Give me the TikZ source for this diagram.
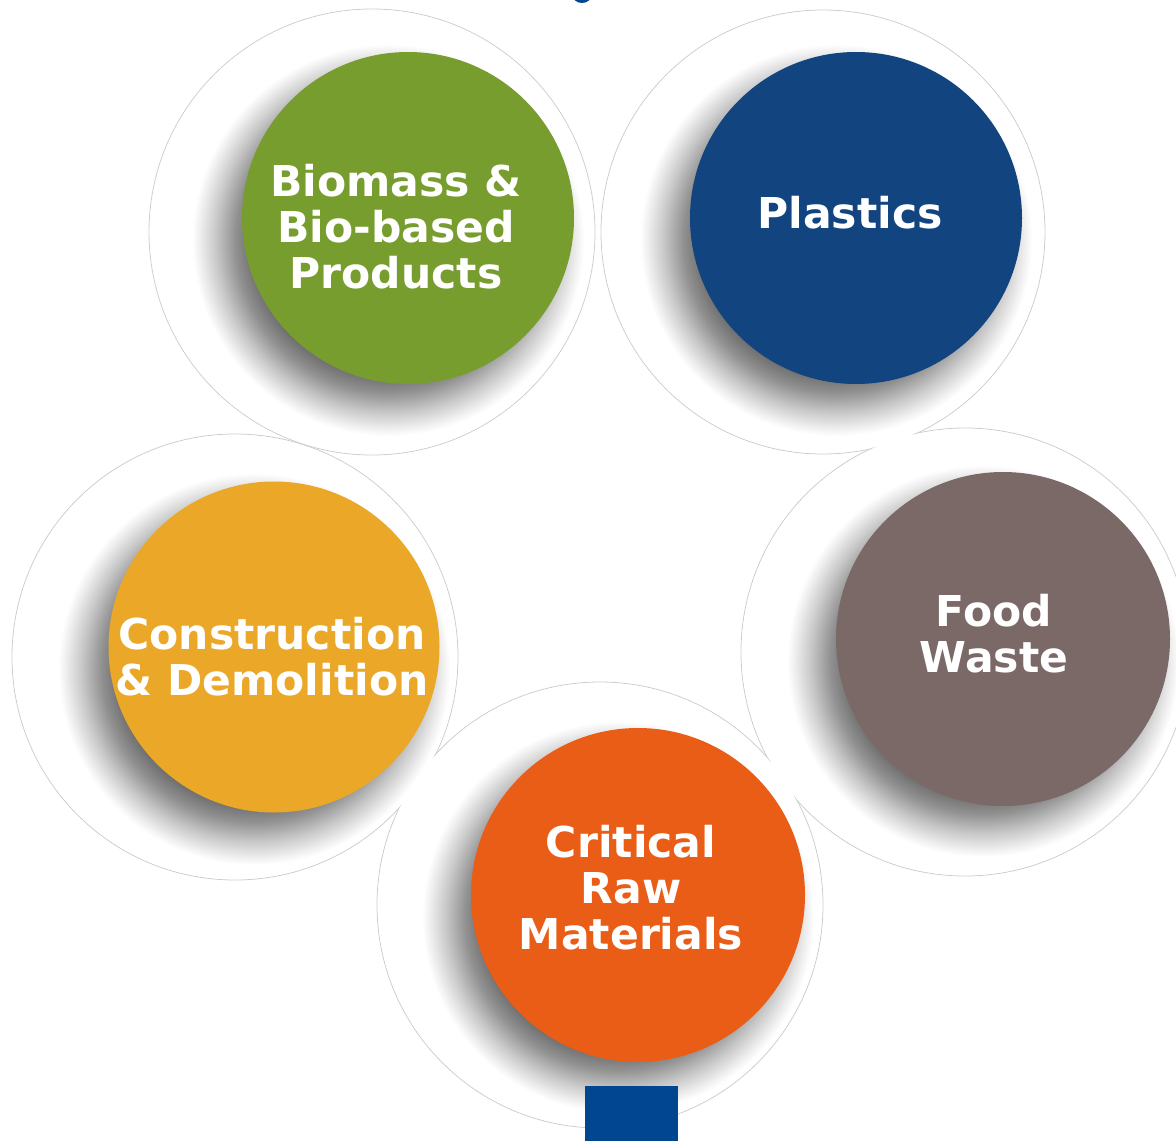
\documentclass[tikz,border=0pt]{standalone}
\usepackage{fontspec}
\newfontfamily\lblfont{DejaVu Sans}
\definecolor{cgreen}{RGB}{120,157,47}
\definecolor{cplast}{RGB}{18,69,128}
\definecolor{ccd}{RGB}{234,167,40}
\definecolor{cfw}{RGB}{123,105,103}
\definecolor{ccrm}{RGB}{233,93,22}
\definecolor{cbar}{RGB}{0,70,145}
\definecolor{crim}{RGB}{205,205,205}
\definecolor{shA}{RGB}{105,105,105}
\definecolor{shB}{RGB}{145,145,145}
\definecolor{shC}{RGB}{200,200,200}
\definecolor{shD}{RGB}{238,238,238}
\pgfdeclareradialshading{softshadow}{\pgfpoint{0bp}{0bp}}{color(0bp)=(shA); color(17bp)=(shA); color(19.5bp)=(shB); color(22bp)=(shC); color(24bp)=(shD); color(25bp)=(white); color(50bp)=(white)}
\tikzset{
  outerrim/.style={draw=crim, line width=0.8pt, fill=white},
  outerfill/.style={fill=white},
  disc/.style={circle, inner sep=0pt, minimum size=#1},
  shadowdisc/.style={shading=softshadow},
  lbl/.style={text=white, align=center, font=\lblfont\bfseries\fontsize{42.5}{46}\selectfont, inner sep=0pt}
}
\begin{document}
\begin{tikzpicture}[x=1pt,y=1pt]
\path[use as bounding box] (0,0) rectangle (1176,-1141);
\begin{scope}
\clip (0,0) rectangle (1176,-1141);
% outer white circles: rims then fills (union outline)
\foreach \cx/\cy/\r in {372/232/223, 823/232/222, 235/657/223, 965/652/224, 600/905/223}{
  \path[outerrim] (\cx,-\cy) circle (\r pt);
}
\foreach \cx/\cy/\r in {372/232/222.2, 823/232/221.2, 235/657/222.2, 965/652/223.2, 600/905/222.2}{
  \path[outerfill] (\cx,-\cy) circle (\r pt);
}
% soft shadows
\foreach \cx/\cy in {408/218, 856/218, 274/647, 1003/639, 638/895}{
  \shade[shadowdisc] (\cx-20,-\cy-22) circle (196pt);
}
% coloured discs
\node[disc=332pt, fill=cgreen] (biomass) at (408,-218) {};
\node[disc=332pt, fill=cplast] (plastics) at (856,-218) {};
\node[disc=331pt, fill=ccd] (construction) at (274,-647) {};
\node[disc=334pt, fill=cfw] (food) at (1003,-639) {};
\node[disc=334pt, fill=ccrm] (critical) at (638,-895) {};
% labels
\node[lbl] (biomasstxt) at (396,-227) {Biomass \&\\Bio-based\\Products};
\node[lbl] (plasticstxt) at (850,-213) {Plastics};
\node[lbl] (constructiontxt) at (272,-657) {Construction\\\& Demolition};
\node[lbl] (foodtxt) at (994,-634) {Food\\Waste};
\node[lbl] (criticaltxt) at (631,-888) {Critical\\Raw\\Materials};
% blue fragments
\fill[cbar] (585,-1086) rectangle (678,-1141);
\fill[cbar] (582,6) ellipse (10pt and 9pt);
\end{scope}
\end{tikzpicture}
\end{document}
